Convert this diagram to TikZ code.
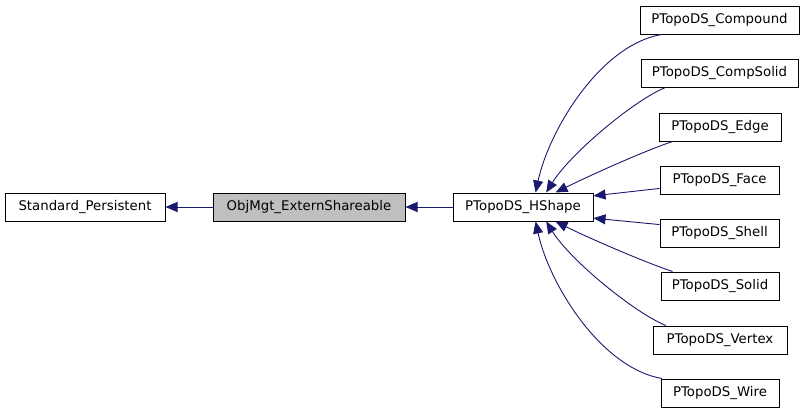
\documentclass[tikz,border=0pt]{standalone}
\usepackage{fontspec}
\setmainfont{DejaVu Sans}
\usetikzlibrary{arrows.meta}
\definecolor{edgeblue}{RGB}{25,25,112}
\definecolor{boxgray}{RGB}{191,191,191}

\begin{document}
\begin{tikzpicture}[x=1pt,y=-1pt,line width=1pt,font=\fontsize{13.3}{16}\selectfont,
  cls/.style={draw=black,fill=white,minimum height=28pt,inner sep=0pt},
  inh/.style={draw=edgeblue,line width=.9pt,-{Triangle[length=12pt,width=10pt]}}]
\useasboundingbox (0,0) rectangle (805,413);
\node[cls,minimum width=160pt] (stdp) at (85,207) {Standard\_Persistent};
\node[cls,minimum width=192pt,fill=boxgray] (objm) at (309,207) {ObjMgt\_ExternShareable};
\node[cls,minimum width=140pt] (hsh) at (523,207) {PTopoDS\_HShape};
\node[cls,minimum width=159pt] (cmp) at (719.5,20) {PTopoDS\_Compound};
\node[cls,minimum width=157pt] (cms) at (719.5,73) {PTopoDS\_CompSolid};
\node[cls,minimum width=122pt] (edg) at (720,127) {PTopoDS\_Edge};
\node[cls,minimum width=119pt] (fac) at (719.5,180) {PTopoDS\_Face};
\node[cls,minimum width=119pt] (shl) at (719.5,233) {PTopoDS\_Shell};
\node[cls,minimum width=118pt] (sld) at (720,286) {PTopoDS\_Solid};
\node[cls,minimum width=134pt] (vtx) at (720,340) {PTopoDS\_Vertex};
\node[cls,minimum width=118pt] (wir) at (720,393) {PTopoDS\_Wire};
\draw[inh] (objm) -- (stdp);
\draw[inh] (hsh) -- (objm);
\draw[inh] (cmp.194) .. controls +(-62,11) and +(13,-61) .. (hsh.49);
\draw[inh] (cms.195) .. controls +(-30,12) and +(25,-40) .. (hsh.32);
\draw[inh] (edg.197) .. controls +(-30,10) and +(30,-15) .. (hsh.24);
\draw[inh] (fac.188) -- (hsh.9);
\draw[inh] (shl.172) -- (hsh.-9);
\draw[inh] (sld.163) .. controls +(-30,-10) and +(30,15) .. (hsh.-24);
\draw[inh] (vtx.165) .. controls +(-30,-12) and +(25,40) .. (hsh.-32);
\draw[inh] (wir.166) .. controls +(-62,-11) and +(13,61) .. (hsh.-49);
\end{tikzpicture}
\end{document}
